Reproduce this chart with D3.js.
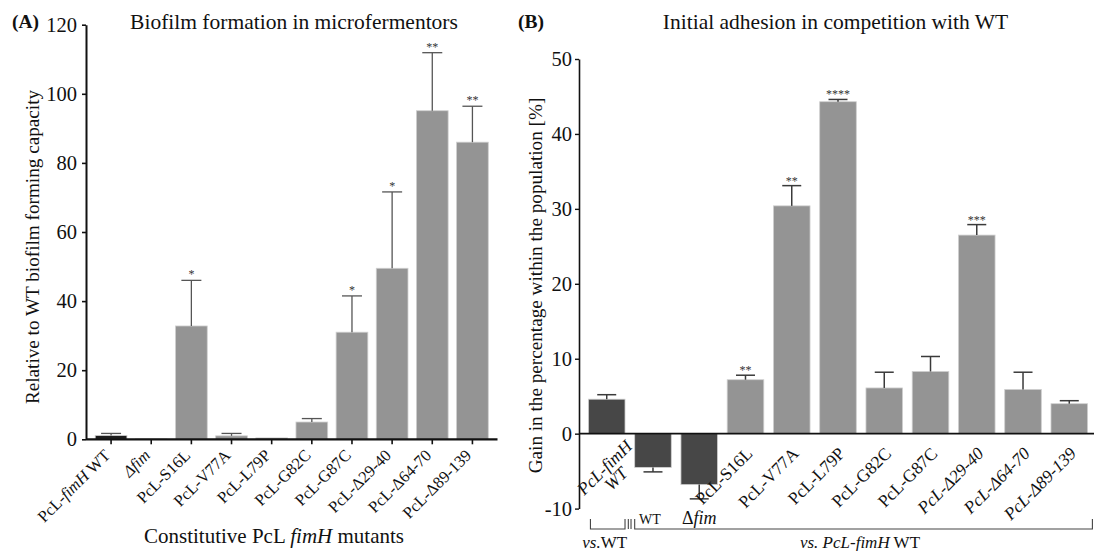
<!DOCTYPE html>
<html>
<head>
<meta charset="utf-8">
<script src="https://cdn.jsdelivr.net/npm/d3@7"></script>
<style>
  html, body { margin: 0; padding: 0; background: #fff; }
  svg { display: block; }
  text { font-family: "Liberation Serif", "Times New Roman", serif; fill: #111; }
</style>
</head>
<body>
<svg id="chart" width="1094" height="551"></svg>
<script>
// ---------- Panel A data ----------
const catsA = ["PcL-fimH WT", "Δfim", "PcL-S16L", "PcL-V77A", "PcL-L79P", "PcL-G82C", "PcL-G87C", "PcL-Δ29-40", "PcL-Δ64-70", "PcL-Δ89-139"];
const labelsA = [
  [["PcL-", 0], ["fimH", 1], [" WT", 0]],
  [["Δfim", 1]],
  [["PcL-S16L", 0]],
  [["PcL-V77A", 0]],
  [["PcL-L79P", 0]],
  [["PcL-G82C", 0]],
  [["PcL-G87C", 0]],
  [["PcL-Δ29-40", 0]],
  [["PcL-Δ64-70", 0]],
  [["PcL-Δ89-139", 0]]
];
const valuesA = [1.1, 0.1, 32.8, 1.0, 0.4, 5.0, 31.0, 49.5, 95.1, 86.0];
const errorsA = [0.6, 0, 13.2, 0.7, 0, 1.0, 10.5, 22.1, 16.8, 10.4];
const starsA = ["", "", "*", "", "", "", "*", "*", "**", "**"];
const darkA = [1, 0, 0, 0, 0, 0, 0, 0, 0, 0];
const yTicksA = [0, 20, 40, 60, 80, 100, 120];

// ---------- Panel B data ----------
const catsB = ["PcL-fimH WT", "WT", "Δfim", "PcL-S16L", "PcL-V77A", "PcL-L79P", "PcL-G82C", "PcL-G87C", "PcL-Δ29-40", "PcL-Δ64-70", "PcL-Δ89-139"];
const labelsB = [
  null, null, null,
  [["PcL-S16L", 0]],
  [["PcL-V77A", 0]],
  [["PcL-L79P", 0]],
  [["PcL-G82C", 0]],
  [["PcL-G87C", 0]],
  [["PcL-Δ29-40", 1]],
  [["PcL-Δ64-70", 1]],
  [["PcL-Δ89-139", 1]]
];
const valuesB = [4.6, -4.5, -6.8, 7.2, 30.4, 44.3, 6.1, 8.3, 26.5, 5.9, 4.0];
const errorsB = [0.6, 0.6, 1.9, 0.6, 2.7, 0.3, 2.1, 2.0, 1.4, 2.3, 0.4];
const starsB = ["", "", "", "**", "**", "****", "", "", "***", "", ""];
const darkB = [1, 1, 1, 0, 0, 0, 0, 0, 0, 0, 0];
const yTicksB = [-10, 0, 10, 20, 30, 40, 50];

const svg = d3.select("#chart");
const GRAY = "#949494", DARK = "#474747", BLACK = "#1c1c1c";
const plainFmt = d => String(d);

function addSegments(sel, segs) {
  segs.forEach(([t, it]) => {
    sel.append("tspan").text(t).attr("font-style", it ? "italic" : "normal");
  });
}

// ================= Panel A =================
(function () {
  const x = d3.scaleBand().domain(catsA).range([91, 492.5]).paddingInner(0.21).paddingOuter(0.105);
  const y = d3.scaleLinear().domain([0, 120]).range([439.3, 24.7]);
  const left = x.range()[0] - 5, right = x.range()[1] + 5;
  const g = svg.append("g");

  g.selectAll("rect.bar").data(catsA).join("rect")
    .attr("x", d => x(d))
    .attr("width", x.bandwidth())
    .attr("y", (d, i) => y(valuesA[i]))
    .attr("height", (d, i) => y(0) - y(valuesA[i]))
    .attr("fill", (d, i) => darkA[i] ? BLACK : GRAY)
    .attr("stroke", "#cfcfcf").attr("stroke-width", 0.8);

  const eb = g.append("g").attr("stroke", "#555").attr("stroke-width", 1.3);
  catsA.forEach((c, i) => {
    if (!errorsA[i]) return;
    const cx = x(c) + x.bandwidth() / 2;
    const top = y(valuesA[i] + errorsA[i]);
    eb.append("line").attr("x1", cx).attr("x2", cx).attr("y1", y(valuesA[i])).attr("y2", top);
    eb.append("line").attr("x1", cx - 10).attr("x2", cx + 10).attr("y1", top).attr("y2", top);
  });

  catsA.forEach((c, i) => {
    if (!starsA[i]) return;
    g.append("text").attr("x", x(c) + x.bandwidth() / 2)
      .attr("y", y(valuesA[i] + errorsA[i]) - 2)
      .attr("text-anchor", "middle").attr("font-size", 12).style("fill", "#333")
      .text(starsA[i]);
  });

  const ya = g.append("g").attr("transform", `translate(${left},0)`)
    .call(d3.axisLeft(y).tickValues(yTicksA).tickFormat(plainFmt).tickSize(4).tickSizeOuter(0).tickPadding(5));
  ya.select(".domain").attr("stroke", "#111").attr("stroke-width", 2);
  ya.selectAll(".tick line").attr("stroke", "#111").attr("stroke-width", 1.6);
  ya.selectAll(".tick text").attr("font-size", 20.5).attr("font-family", "Liberation Serif").attr("fill", "#111");

  const xa = g.append("g").attr("transform", `translate(0,${y(0)})`)
    .call(d3.axisBottom(x).tickSize(5).tickSizeOuter(0).tickFormat(""));
  xa.select(".domain").remove();
  xa.selectAll(".tick line").attr("stroke", "#111").attr("stroke-width", 1.6);
  g.append("line").attr("x1", left).attr("x2", right).attr("y1", y(0)).attr("y2", y(0))
    .attr("stroke", "#111").attr("stroke-width", 2.2);

  catsA.forEach((c, i) => {
    const cx = x(c) + x.bandwidth() / 2;
    const t = g.append("text")
      .attr("transform", `translate(${cx},${y(0) + 17}) rotate(-45)`)
      .attr("text-anchor", "end").attr("font-size", 16.5);
    addSegments(t, labelsA[i]);
  });

  g.append("text").attr("x", 294).attr("y", 29).attr("text-anchor", "middle")
    .attr("font-size", 21.5).text("Biofilm formation in microfermentors");
  g.append("text").attr("x", 12).attr("y", 28).attr("font-size", 19.5).attr("font-weight", "bold").text("(A)");
  g.append("text").attr("transform", `translate(39,247) rotate(-90)`).attr("text-anchor", "middle")
    .attr("font-size", 19.2).text("Relative to WT biofilm forming capacity");
  const xt = g.append("text").attr("x", 274).attr("y", 543).attr("text-anchor", "middle").attr("font-size", 21);
  addSegments(xt, [["Constitutive PcL ", 0], ["fimH", 1], [" mutants", 0]]);
})();

// ================= Panel B =================
(function () {
  const x = d3.scaleBand().domain(catsB).range([583.6, 1092.4]).paddingInner(0.209).paddingOuter(0.1045);
  const y = d3.scaleLinear().domain([-10, 50]).range([508.6, 59]);
  const left = x.range()[0] - 4.6;
  const g = svg.append("g");

  g.selectAll("rect.bar").data(catsB).join("rect")
    .attr("x", d => x(d))
    .attr("width", x.bandwidth())
    .attr("y", (d, i) => Math.min(y(valuesB[i]), y(0)))
    .attr("height", (d, i) => Math.abs(y(0) - y(valuesB[i])))
    .attr("fill", (d, i) => darkB[i] ? DARK : GRAY)
    .attr("stroke", "#cfcfcf").attr("stroke-width", 0.8);

  const eb = g.append("g").attr("stroke", "#3a3a3a").attr("stroke-width", 1.5);
  catsB.forEach((c, i) => {
    const cx = x(c) + x.bandwidth() / 2;
    const sgn = valuesB[i] >= 0 ? 1 : -1;
    const end = y(valuesB[i] + sgn * errorsB[i]);
    eb.append("line").attr("x1", cx).attr("x2", cx).attr("y1", y(valuesB[i])).attr("y2", end);
    eb.append("line").attr("x1", cx - 9.5).attr("x2", cx + 9.5).attr("y1", end).attr("y2", end);
  });

  catsB.forEach((c, i) => {
    if (!starsB[i]) return;
    g.append("text").attr("x", x(c) + x.bandwidth() / 2)
      .attr("y", y(valuesB[i] + errorsB[i]) - 1)
      .attr("text-anchor", "middle").attr("font-size", 12).style("fill", "#333")
      .text(starsB[i]);
  });

  const ya = g.append("g").attr("transform", `translate(${left},0)`)
    .call(d3.axisLeft(y).tickValues(yTicksB).tickFormat(plainFmt).tickSize(4).tickSizeOuter(0).tickPadding(3));
  ya.select(".domain").attr("stroke", "#111").attr("stroke-width", 1.6);
  ya.selectAll(".tick line").attr("stroke", "#111").attr("stroke-width", 1.4);
  ya.selectAll(".tick text").attr("font-size", 20.5).attr("font-family", "Liberation Serif").attr("fill", "#111");

  g.append("line").attr("x1", left).attr("x2", 1094).attr("y1", y(0)).attr("y2", y(0))
    .attr("stroke", "#111").attr("stroke-width", 1.6);

  catsB.forEach((c, i) => {
    if (!labelsB[i]) return;
    const cx = x(c) + x.bandwidth() / 2;
    const t = g.append("text")
      .attr("transform", `translate(${cx + 8},${y(0) + 21}) rotate(-45)`)
      .attr("text-anchor", "end").attr("font-size", 17.5);
    addSegments(t, labelsB[i]);
  });
  const c0 = x(catsB[0]) + x.bandwidth() / 2;
  const t0 = g.append("text")
    .attr("transform", `translate(${c0 + 2},${y(0) + 38}) rotate(-45)`)
    .attr("text-anchor", "middle").attr("font-size", 17.5).attr("font-style", "italic");
  t0.append("tspan").attr("x", 0).attr("dy", 0).text("PcL-fimH");
  t0.append("tspan").attr("x", 0).attr("dy", 16).text("WT");
  const c1 = x(catsB[1]) + x.bandwidth() / 2;
  const c2 = x(catsB[2]) + x.bandwidth() / 2;
  g.append("text").attr("x", c1 - 3).attr("y", 523.5).attr("text-anchor", "middle").attr("font-size", 14).text("WT");
  const tf = g.append("text").attr("x", c2).attr("y", 523.5).attr("text-anchor", "middle").attr("font-size", 18);
  addSegments(tf, [["Δ", 0], ["fim", 1]]);

  const by1 = 519, by2 = 529;
  const b0l = x(catsB[0]) + 2, b0r = x(catsB[0]) + x.bandwidth();
  const b1l = x(catsB[1]), b1r = x.range()[1];
  const br = g.append("g").attr("stroke", "#444").attr("stroke-width", 1.1).attr("fill", "none");
  br.append("path").attr("d", `M${b0l},${by1}V${by2}H${b0r}V${by1}`);
  br.append("path").attr("d", `M${b1l},${by1}V${by2}H${b1r}V${by1}`);
  br.append("line").attr("x1", b0r + 3.3).attr("x2", b0r + 3.3).attr("y1", by1).attr("y2", by2);
  br.append("line").attr("x1", b0r + 6).attr("x2", b0r + 6).attr("y1", by1).attr("y2", by2);

  const v1 = g.append("text").attr("x", c0 - 2).attr("y", 548).attr("text-anchor", "middle").attr("font-size", 17);
  addSegments(v1, [["vs.", 1], ["WT", 0]]);
  const v2 = g.append("text").attr("x", 860).attr("y", 548).attr("text-anchor", "middle").attr("font-size", 17);
  addSegments(v2, [["vs.  PcL-fimH", 1], [" WT", 0]]);

  g.append("text").attr("x", 835.5).attr("y", 29).attr("text-anchor", "middle")
    .attr("font-size", 21.5).text("Initial adhesion in competition with WT");
  g.append("text").attr("x", 518).attr("y", 28).attr("font-size", 19.5).attr("font-weight", "bold").text("(B)");
  g.append("text").attr("transform", `translate(542,285.5) rotate(-90)`).attr("text-anchor", "middle")
    .attr("font-size", 19.2).text("Gain in the percentage within the population [%]");
})();
</script>
</body>
</html>
